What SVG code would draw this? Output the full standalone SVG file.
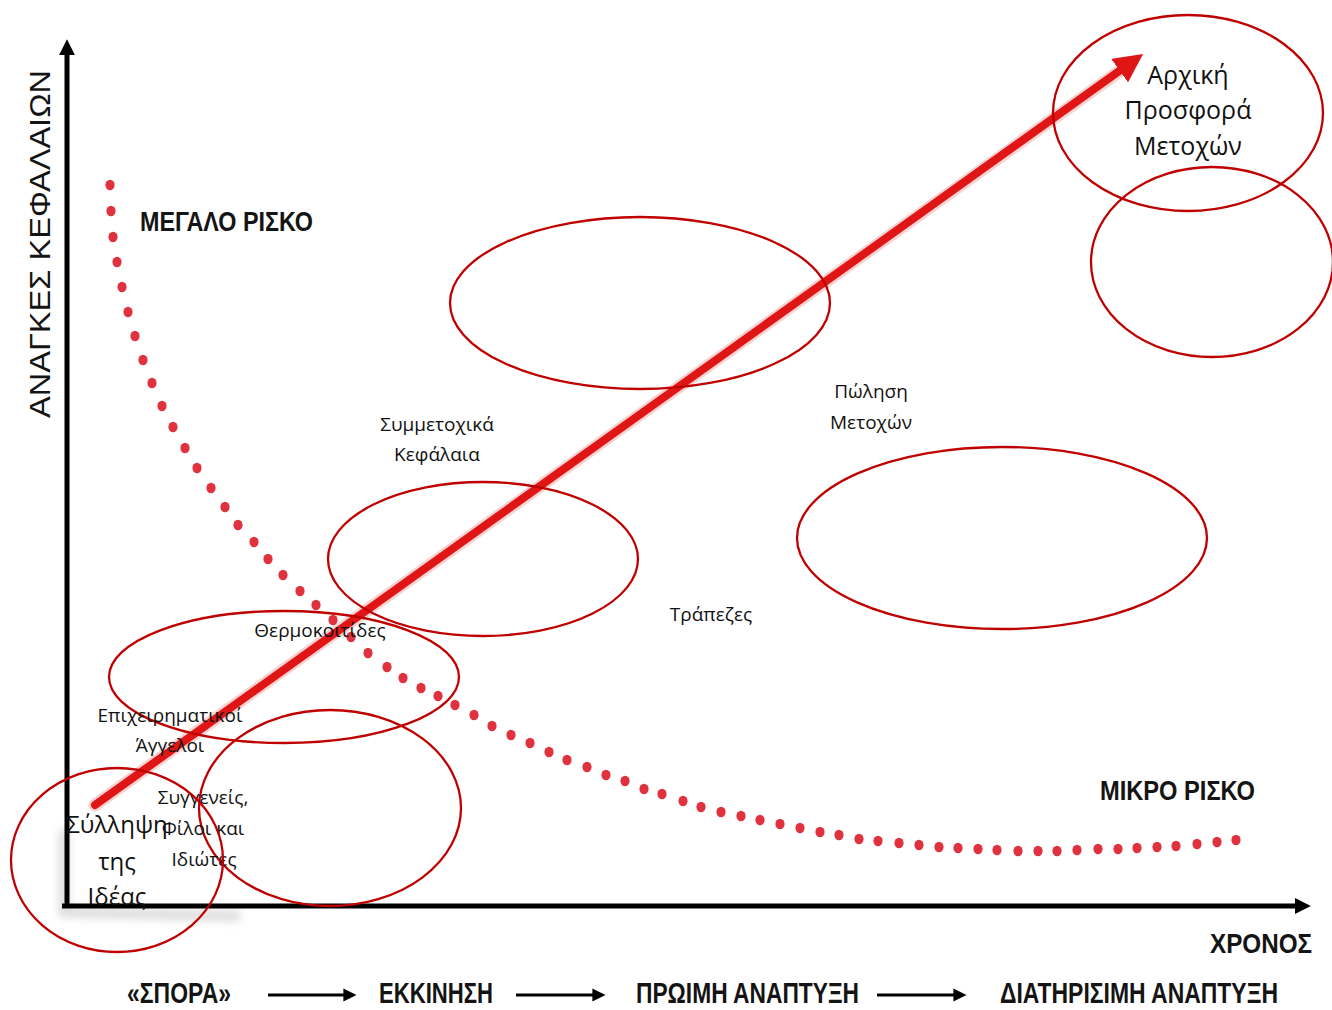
<svg xmlns="http://www.w3.org/2000/svg" width="1332" height="1010" viewBox="0 0 1332 1010">
<style>
.ell{fill:none;stroke:#c00000;stroke-width:2.3}
.lbl{font-family:"Open Sans","Noto Sans",sans-serif;fill:#111;text-anchor:middle}
.cap{font-family:"Liberation Sans",Arial,sans-serif;font-weight:bold;fill:#141414}
.dot{fill:#e0313e}
.axis{stroke:#000;stroke-width:5;fill:none}
.step{stroke:#000;stroke-width:3;fill:none}
</style>
<defs>
<marker id="axHead" viewBox="0 0 10 10" refX="2" refY="5" markerWidth="3.2" markerHeight="3.6" markerUnits="strokeWidth" orient="auto"><path d="M0,0 L10,5 L0,10 z" fill="#000"/></marker>
<marker id="stepHead" viewBox="0 0 10 10" refX="2" refY="5" markerWidth="4.4" markerHeight="4.4" markerUnits="strokeWidth" orient="auto"><path d="M0,0 L10,5 L0,10 z" fill="#000"/></marker>
<marker id="redHead" viewBox="0 0 10 10" refX="1" refY="5" markerWidth="3.6" markerHeight="3.6" markerUnits="strokeWidth" orient="auto"><path d="M0,0 L10,5 L0,10 z" fill="#e01515"/></marker>
<filter id="blur" x="-20%" y="-20%" width="140%" height="140%"><feGaussianBlur stdDeviation="4"/></filter>
</defs>
<rect width="1332" height="1010" fill="#fff"/>

<!-- faint shadow near origin -->
<path d="M64,830 L64,912 L240,916" fill="none" stroke="#bdbdbd" stroke-width="10" opacity="0.55" filter="url(#blur)"/>

<!-- risk curve -->
<g id="risk-curve">
<ellipse class="dot" cx="110" cy="185" rx="4.6" ry="5.2"/><ellipse class="dot" cx="111" cy="211" rx="4.6" ry="5.2"/><ellipse class="dot" cx="113" cy="237" rx="4.6" ry="5.2"/><ellipse class="dot" cx="117" cy="262" rx="4.6" ry="5.2"/><ellipse class="dot" cx="122" cy="287" rx="4.6" ry="5.2"/><ellipse class="dot" cx="128" cy="312" rx="4.6" ry="5.2"/><ellipse class="dot" cx="135" cy="336" rx="4.6" ry="5.2"/><ellipse class="dot" cx="143" cy="360" rx="4.6" ry="5.2"/><ellipse class="dot" cx="152" cy="383" rx="4.6" ry="5.2"/><ellipse class="dot" cx="162" cy="406" rx="4.6" ry="5.2"/><ellipse class="dot" cx="173" cy="427" rx="4.6" ry="5.2"/><ellipse class="dot" cx="185" cy="448" rx="4.6" ry="5.2"/><ellipse class="dot" cx="197" cy="468" rx="4.6" ry="5.2"/><ellipse class="dot" cx="211" cy="488" rx="4.6" ry="5.2"/><ellipse class="dot" cx="225" cy="507" rx="4.6" ry="5.2"/><ellipse class="dot" cx="238" cy="525" rx="4.6" ry="5.2"/><ellipse class="dot" cx="254" cy="542" rx="4.6" ry="5.2"/><ellipse class="dot" cx="268" cy="559" rx="4.6" ry="5.2"/><ellipse class="dot" cx="283" cy="575" rx="4.6" ry="5.2"/><ellipse class="dot" cx="300" cy="591" rx="4.6" ry="5.2"/><ellipse class="dot" cx="316" cy="605" rx="4.6" ry="5.2"/><ellipse class="dot" cx="333" cy="620" rx="4.6" ry="5.2"/><ellipse class="dot" cx="351" cy="637" rx="4.6" ry="5.2"/><ellipse class="dot" cx="368" cy="653" rx="4.6" ry="5.2"/><ellipse class="dot" cx="387" cy="667" rx="4.6" ry="5.2"/><ellipse class="dot" cx="403" cy="678" rx="4.6" ry="5.2"/><ellipse class="dot" cx="421" cy="688" rx="4.6" ry="5.2"/><ellipse class="dot" cx="438" cy="696" rx="4.6" ry="5.2"/><ellipse class="dot" cx="455" cy="705" rx="4.6" ry="5.2"/><ellipse class="dot" cx="474" cy="715" rx="4.6" ry="5.2"/><ellipse class="dot" cx="492" cy="726" rx="4.6" ry="5.2"/><ellipse class="dot" cx="511" cy="735" rx="4.6" ry="5.2"/><ellipse class="dot" cx="530" cy="743" rx="4.6" ry="5.2"/><ellipse class="dot" cx="549" cy="752" rx="4.6" ry="5.2"/><ellipse class="dot" cx="567" cy="760" rx="4.6" ry="5.2"/><ellipse class="dot" cx="587" cy="767" rx="4.6" ry="5.2"/><ellipse class="dot" cx="606" cy="775" rx="4.6" ry="5.2"/><ellipse class="dot" cx="625" cy="781" rx="4.6" ry="5.2"/><ellipse class="dot" cx="644" cy="789" rx="4.6" ry="5.2"/><ellipse class="dot" cx="662" cy="794" rx="4.6" ry="5.2"/><ellipse class="dot" cx="683" cy="801" rx="4.6" ry="5.2"/><ellipse class="dot" cx="701" cy="807" rx="4.6" ry="5.2"/><ellipse class="dot" cx="721" cy="812" rx="4.6" ry="5.2"/><ellipse class="dot" cx="741" cy="816" rx="4.6" ry="5.2"/><ellipse class="dot" cx="760" cy="820" rx="4.6" ry="5.2"/><ellipse class="dot" cx="780" cy="824" rx="4.6" ry="5.2"/><ellipse class="dot" cx="800" cy="828" rx="4.6" ry="5.2"/><ellipse class="dot" cx="820" cy="832" rx="4.6" ry="5.2"/><ellipse class="dot" cx="839" cy="835" rx="4.6" ry="5.2"/><ellipse class="dot" cx="859" cy="839" rx="4.6" ry="5.2"/><ellipse class="dot" cx="878" cy="841" rx="4.6" ry="5.2"/><ellipse class="dot" cx="899" cy="843" rx="4.6" ry="5.2"/><ellipse class="dot" cx="919" cy="845" rx="4.6" ry="5.2"/><ellipse class="dot" cx="939" cy="847" rx="4.6" ry="5.2"/><ellipse class="dot" cx="958" cy="848" rx="4.6" ry="5.2"/><ellipse class="dot" cx="978" cy="849" rx="4.6" ry="5.2"/><ellipse class="dot" cx="997" cy="850" rx="4.6" ry="5.2"/><ellipse class="dot" cx="1018" cy="851" rx="4.6" ry="5.2"/><ellipse class="dot" cx="1038" cy="851" rx="4.6" ry="5.2"/><ellipse class="dot" cx="1057" cy="851" rx="4.6" ry="5.2"/><ellipse class="dot" cx="1077" cy="850" rx="4.6" ry="5.2"/><ellipse class="dot" cx="1098" cy="849" rx="4.6" ry="5.2"/><ellipse class="dot" cx="1118" cy="849" rx="4.6" ry="5.2"/><ellipse class="dot" cx="1137" cy="848" rx="4.6" ry="5.2"/><ellipse class="dot" cx="1157" cy="847" rx="4.6" ry="5.2"/><ellipse class="dot" cx="1176" cy="846" rx="4.6" ry="5.2"/><ellipse class="dot" cx="1197" cy="844" rx="4.6" ry="5.2"/><ellipse class="dot" cx="1217" cy="842" rx="4.6" ry="5.2"/><ellipse class="dot" cx="1236" cy="840" rx="4.6" ry="5.2"/>
</g>

<!-- connectors -->
<g id="connectors">
<line x1="95" y1="805" x2="1124" y2="68" stroke="#f08080" stroke-width="13" opacity="0.35" stroke-linecap="round"/>
<line x1="95" y1="805" x2="1122" y2="69" stroke="#e01515" stroke-width="8" stroke-linecap="round" marker-end="url(#redHead)"/>
<line class="axis" x1="67" y1="908" x2="67" y2="52" marker-end="url(#axHead)"/>
<line class="axis" x1="62" y1="906" x2="1298" y2="906" marker-end="url(#axHead)"/>
<line class="step" x1="268" y1="995" x2="346" y2="995" marker-end="url(#stepHead)"/>
<line class="step" x1="516" y1="995" x2="595" y2="995" marker-end="url(#stepHead)"/>
<line class="step" x1="877" y1="995" x2="956" y2="995" marker-end="url(#stepHead)"/>
</g>

<!-- axis labels -->
<text class="cap" style="font-weight:normal" transform="translate(50,418) rotate(-90)" font-size="30" textLength="348" lengthAdjust="spacingAndGlyphs">ΑΝΑΓΚΕΣ ΚΕΦΑΛΑΙΩΝ</text>
<text class="cap" x="140" y="231" font-size="27" textLength="173" lengthAdjust="spacingAndGlyphs">ΜΕΓΑΛΟ ΡΙΣΚΟ</text>
<text class="cap" x="1100" y="800" font-size="27" textLength="155" lengthAdjust="spacingAndGlyphs">ΜΙΚΡΟ ΡΙΣΚΟ</text>
<text class="cap" x="1210" y="953" font-size="28" textLength="102" lengthAdjust="spacingAndGlyphs">ΧΡΟΝΟΣ</text>
<text class="cap" x="127" y="1003" font-size="29" textLength="104" lengthAdjust="spacingAndGlyphs">«ΣΠΟΡΑ»</text>
<text class="cap" x="379" y="1003" font-size="29" textLength="114" lengthAdjust="spacingAndGlyphs">ΕΚΚΙΝΗΣΗ</text>
<text class="cap" x="636" y="1003" font-size="29" textLength="223" lengthAdjust="spacingAndGlyphs">ΠΡΩΙΜΗ ΑΝΑΠΤΥΞΗ</text>
<text class="cap" transform="translate(1000,1003) scale(0.77,1)" x="0" y="0" font-size="29" textLength="361" lengthAdjust="spacingAndGlyphs">ΔΙΑΤΗΡΙΣΙΜΗ ΑΝΑΠΤΥΞΗ</text>

<!-- nodes -->
<g id="node-ipo">
<ellipse class="ell" cx="1188" cy="113" rx="135" ry="98"/>
<text class="lbl" font-size="25"><tspan x="1188" y="84">Αρχική</tspan><tspan x="1188" y="119">Προσφορά</tspan><tspan x="1188" y="155">Μετοχών</tspan></text>
</g>
<g id="node-empty-right">
<ellipse class="ell" cx="1212" cy="262" rx="121" ry="95"/>
</g>
<g id="node-equity">
<ellipse class="ell" cx="640" cy="303" rx="190" ry="86"/>
<text class="lbl" font-size="19"><tspan x="437" y="431">Συμμετοχικά</tspan><tspan x="437" y="461">Κεφάλαια</tspan></text>
</g>
<g id="node-shares">
<ellipse class="ell" cx="1002" cy="538" rx="205" ry="91"/>
<text class="lbl" font-size="19"><tspan x="871" y="398">Πώληση</tspan><tspan x="871" y="429">Μετοχών</tspan></text>
</g>
<g id="node-banks">
<ellipse class="ell" cx="483" cy="559" rx="155" ry="77"/>
<text class="lbl" font-size="19" x="711" y="621">Τράπεζες</text>
</g>
<g id="node-incubators">
<ellipse class="ell" cx="284" cy="677" rx="175" ry="66"/>
<text class="lbl" font-size="19" x="320" y="637">Θερμοκοιτίδες</text>
</g>
<g id="node-angels">
<text class="lbl" font-size="19"><tspan x="170" y="722">Επιχειρηματικοί</tspan><tspan x="170" y="752">Άγγελοι</tspan></text>
</g>
<g id="node-family">
<ellipse class="ell" cx="330" cy="808" rx="131" ry="98"/>
<text class="lbl" font-size="19"><tspan x="203" y="804">Συγγενείς,</tspan><tspan x="203" y="835">Φίλοι και</tspan><tspan x="204" y="866">Ιδιώτες</tspan></text>
</g>
<g id="node-idea">
<ellipse class="ell" cx="117" cy="860" rx="106" ry="92"/>
<text class="lbl" font-size="24"><tspan x="117" y="833">Σύλληψη</tspan><tspan x="117" y="870">της</tspan><tspan x="117" y="905">Ιδέας</tspan></text>
</g>
</svg>
